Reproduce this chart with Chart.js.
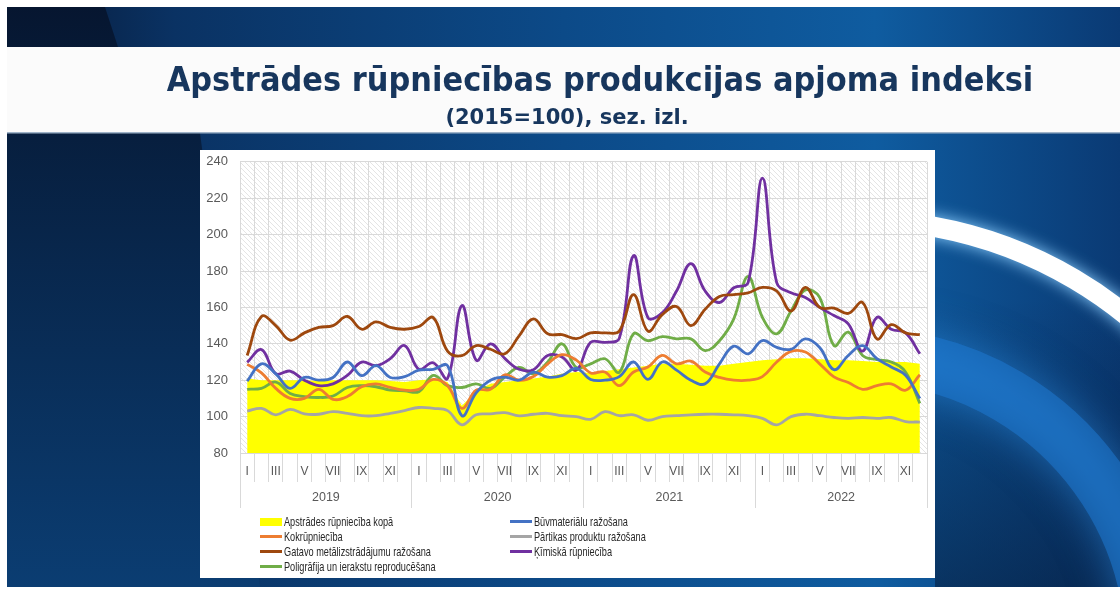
<!DOCTYPE html>
<html><head><meta charset="utf-8">
<script src="https://cdn.jsdelivr.net/npm/chart.js@4.4.0/dist/chart.umd.min.js"></script>
<style>
html,body{margin:0;padding:0;width:1120px;height:591px;overflow:hidden;background:#fff;}
#bg{position:absolute;left:0;top:0;}
.title{position:absolute;left:0;text-align:center;font-family:'DejaVu Sans',sans-serif;font-weight:bold;color:#17365d;white-space:nowrap;}
#box{position:absolute;left:200px;top:150px;width:735px;height:428px;background:#fff;}
#chart{position:absolute;left:0;top:-8px;}
.lg{position:absolute;height:15px;display:flex;align-items:center;font-family:'Liberation Sans',sans-serif;font-size:13.5px;color:#262626;white-space:nowrap;}
.lg .sym{width:22px;flex:none;margin-right:2px;}
.lg .txt{display:inline-block;transform:scaleX(0.68);transform-origin:left center;}
</style></head><body>
<canvas id="bg" width="1120" height="591"></canvas>
<div class="title" style="top:62px;width:1200px;font-size:30.5px;transform:scaleY(1.08);">Apstrādes rūpniecības produkcijas apjoma indeksi</div>
<div class="title" style="top:105px;width:1134px;font-size:21px;">(2015=100), sez. izl.</div>
<div id="box"><canvas id="chart" width="735" height="436"></canvas><div id="legend"></div></div>
<script>
// ---------- data ----------
const years = ['2019', '2020', '2021', '2022'];
const months = ['I','II','III','IV','V','VI','VII','VIII','IX','X','XI','XII'];
const seriesNames = [
  'Apstrādes rūpniecība kopā',
  'Būvmateriālu ražošana',
  'Kokrūpniecība',
  'Pārtikas produktu ražošana',
  'Gatavo metālizstrādājumu ražošana',
  'Ķīmiskā rūpniecība',
  'Poligrāfija un ierakstu reproducēšana'
];
const total = [121,120,120,120,120,119.5,120,120,120,120,119.5,119,
  120,120.5,119,106,114,118,119,120,121,122,123.5,124.5,
  124,125,126,127,128,129,129,128.5,128,128,129,130,
  131,131.5,132,132,131.5,131,131,130.5,130,130,130,129];
const buvmaterialu = [119.5,129,123.5,115.5,121.5,120,121.5,130,122.5,128,121.5,122,
  125.5,126,128,100.5,113,120,121.7,120,124.4,121.7,122.5,126.5,
  120.4,120,122,130,120.4,130,125.5,120,118,129,138.7,134.5,
  141.8,138,137,142.7,138,125.8,133.6,139,131.8,127.3,122.7,110];
const kokrupnieciba = [128.7,124,115.5,110,110,115,109.5,111,116.4,118,116,114.5,
  115,120.4,117,104.5,114.5,115,123,120,122,129,134,131,
  124,124.5,117,124.5,127.3,133.6,129,130.5,124.5,121.5,120,120,
  122,130,135.8,135.5,129,121.8,118.7,115,117,118,114.5,123];
const partikas = [103,104.5,101,104,101.5,101.3,102.7,101.8,100.5,100.5,101.8,103.3,
  105,104.5,103.3,95.5,101,101.5,102.2,100.4,101.3,101.8,100.5,100,
  98.5,102.7,100.5,101,98,100,100.5,101,101.3,101.3,101,100.5,
  99,95.5,100,101.3,100.5,99.5,99,99.5,99,99.5,97.3,97];
const metalizstradajumu = [133.6,155,150,142,146,149,150,155,148,152,149,148,
  149.5,154.4,136,133.5,139,137,134.5,144.4,153.7,145.5,145,142.8,
  146,146,147,167,147,156,160.5,150,159,166,167,168,
  171,169,158,171,160,159.6,156.7,162.7,142.7,150.5,146,145];
const kimiska = [129.8,136.8,123.6,125,120,117,118,122.6,129.9,128,131.9,139,
  126,129.6,121,161,131,140,132,126,125.8,133.6,132.7,125.5,
  140.8,140.8,143,188.5,154.4,157,169,184,169,162.7,170.8,173.6,
  231,173.6,168,165.5,160,155.5,151,136,154.5,148,146,134.5];
const poligrafija = [115,115.5,119,112.7,111,110.5,111.3,116,117,116.4,114.5,114.2,
  113.7,122.6,117,116,118,115.5,121.7,127,123.6,130,140,127,
  129,131.8,124.4,145.5,141.7,143.9,142.7,142.7,136.3,141.7,153.7,177,
  154.5,145.5,158,169.5,165.5,139,146.4,133.6,131.3,130,124.5,107.3];
const yTicks = {min: 80, max: 240, step: 20};

const monthLabels = years.flatMap(() => months);
const colors = ['#FFFF00','#4472C4','#ED7D31','#A5A5A5','#9E480E','#7030A0','#70AD47'];
const lineSeries = [buvmaterialu, kokrupnieciba, partikas, metalizstradajumu, kimiska, poligrafija];

// ---------- background (decoration) ----------
(function(){
  const b = document.getElementById('bg').getContext('2d');
  b.fillStyle = '#fff'; b.fillRect(0,0,1120,591);
  let g = b.createLinearGradient(7,0,1120,0);
  g.addColorStop(0,'#071a38'); g.addColorStop(0.15,'#0a3263'); g.addColorStop(0.5,'#0c4a88');
  g.addColorStop(0.78,'#0f5ca0'); g.addColorStop(1,'#0a3a74');
  b.fillStyle = g; b.fillRect(7,7,1113,580);
  // dark left region
  let g2 = b.createLinearGradient(0,7,0,587);
  g2.addColorStop(0,'#061630'); g2.addColorStop(1,'#0b3d72');
  b.fillStyle = g2;
  b.beginPath(); b.moveTo(7,7); b.lineTo(105,7); b.lineTo(118,47); b.lineTo(200,133); b.lineTo(260,587); b.lineTo(7,587); b.closePath(); b.fill();
  // right darkening
  let g3 = b.createLinearGradient(0,300,0,587);
  g3.addColorStop(0,'rgba(5,25,55,0)'); g3.addColorStop(1,'rgba(5,25,55,0.55)');
  b.fillStyle = g3; b.fillRect(935,300,185,287);
  // swooshes on right
  b.save(); b.beginPath(); b.rect(935,133,185,454); b.clip();
  b.shadowColor = '#2f8fe6'; b.shadowBlur = 40;
  b.strokeStyle = 'rgba(30,120,210,0.55)'; b.lineWidth = 55;
  b.beginPath(); b.arc(858,650,295,Math.PI*1.05,Math.PI*2.1); b.stroke();
  b.shadowColor = '#8fd0ff'; b.shadowBlur = 16;
  b.strokeStyle = '#ffffff'; b.lineWidth = 20;
  b.beginPath(); b.arc(858,645,425,Math.PI*1.05,Math.PI*2.1); b.stroke();
  b.restore();
  // white title band
  b.fillStyle = '#fbfbfb'; b.fillRect(7,47,1113,86);
  b.fillStyle = '#9fb3c8'; b.fillRect(7,132,1113,1.5);
})();

// ---------- hatch pattern ----------
const pc = document.createElement('canvas'); pc.width = 5; pc.height = 5;
const px = pc.getContext('2d');
px.fillStyle = '#ffffff'; px.fillRect(0,0,5,5);
px.strokeStyle = '#e4e4e4'; px.lineWidth = 1;
px.beginPath(); px.moveTo(-1,-1); px.lineTo(6,6); px.moveTo(-1,4); px.lineTo(1,6); px.moveTo(4,-1); px.lineTo(6,1); px.stroke();
const hatchPattern = px.createPattern(pc,'repeat');
const hatchPlugin = {
  id: 'hatch',
  beforeDraw(c){
    const a = c.chartArea, ctx = c.ctx;
    ctx.save(); ctx.fillStyle = hatchPattern;
    ctx.fillRect(a.left, a.top, a.right - a.left, a.bottom - a.top);
    ctx.restore();
  }
};

const datasets = [{
  label: seriesNames[0], data: total, type: 'line', fill: 'start',
  backgroundColor: colors[0], borderColor: colors[0], borderWidth: 0,
  pointRadius: 0, tension: 0, order: 1
}].concat(lineSeries.map((d,i) => ({
  label: seriesNames[i+1], data: d, type: 'line', fill: false,
  borderColor: colors[i+1], backgroundColor: colors[i+1], borderWidth: 2.8,
  pointRadius: 0, tension: 0.4, order: 0
})));

const gridCol = '#d9d9d9';
const chart = new Chart(document.getElementById('chart'), {
  type: 'line',
  data: { labels: monthLabels, datasets },
  plugins: [hatchPlugin],
  options: {
    responsive: false, animation: false, devicePixelRatio: 1,
    layout: { padding: { left: 0, top: 2, right: 8, bottom: 70 } },
    plugins: { legend: { display: false }, tooltip: { enabled: false } },
    scales: {
      x: {
        type: 'category', position: 'bottom', offset: true, weight: 0,
        grid: { offset: true, color: gridCol, tickColor: gridCol, tickLength: 29, drawOnChartArea: true },
        border: { display: true, color: gridCol },
        ticks: {
          autoSkip: false, maxRotation: 0, padding: -18, color: '#595959',
          font: { family: 'Liberation Sans', size: 12 },
          callback: (v, i) => (i % 2 === 0 ? monthLabels[i] : '')
        },
        afterFit: s => { s.height = 29; }
      },
      x2: {
        type: 'category', position: 'bottom', labels: years, offset: true, weight: 1,
        grid: { offset: true, color: gridCol, tickColor: gridCol, tickLength: 26, drawOnChartArea: false },
        border: { display: false },
        ticks: { autoSkip: false, maxRotation: 0, padding: -18, color: '#595959',
          font: { family: 'Liberation Sans', size: 12.5 } },
        afterFit: s => { s.height = 26; }
      },
      y: {
        min: yTicks.min, max: yTicks.max,
        grid: { color: gridCol, drawTicks: false },
        border: { display: false },
        ticks: { stepSize: yTicks.step, padding: 12, color: '#595959',
          font: { family: 'Liberation Sans', size: 13 } },
        afterFit: s => { s.width = 40; }
      }
    }
  }
});

// ---------- legend (HTML, from datasets) ----------
const lg = document.getElementById('legend');
chart.data.datasets.forEach((ds, i) => {
  const row = Math.floor(i / 2), col = i % 2;
  const el = document.createElement('div');
  el.className = 'lg';
  el.style.left = (col === 0 ? 60 : 310) + 'px';
  el.style.top = (364 + row * 15) + 'px';
  const sym = document.createElement('span');
  sym.className = 'sym';
  if (i === 0) { sym.style.height = '8px'; sym.style.background = ds.backgroundColor; }
  else { sym.style.height = '3px'; sym.style.background = ds.borderColor; }
  const t = document.createElement('span'); t.className = 'txt'; t.textContent = ds.label;
  el.appendChild(sym); el.appendChild(t); lg.appendChild(el);
});
</script>
</body></html>
